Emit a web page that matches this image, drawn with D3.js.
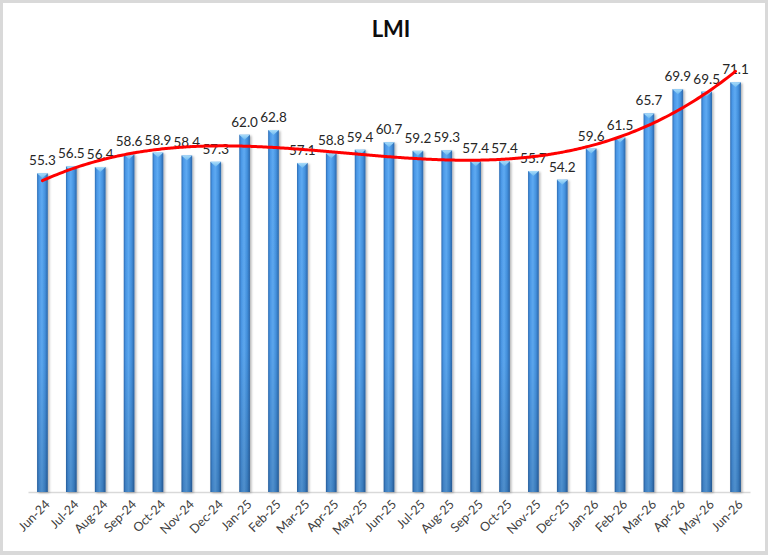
<!DOCTYPE html>
<html><head><meta charset="utf-8">
<script src="https://cdn.jsdelivr.net/npm/d3@7"></script>
<style>html,body{margin:0;padding:0;background:#fff}svg{display:block}</style>
</head><body>
<svg id="chart" width="768" height="555"></svg>
<script>
const categories = ["Jun-24","Jul-24","Aug-24","Sep-24","Oct-24","Nov-24","Dec-24","Jan-25","Feb-25","Mar-25","Apr-25","May-25","Jun-25","Jul-25","Aug-25","Sep-25","Oct-25","Nov-25","Dec-25","Jan-26","Feb-26","Mar-26","Apr-26","May-26","Jun-26"];
const values = [55.3,56.5,56.4,58.6,58.9,58.4,57.3,62.0,62.8,57.1,58.8,59.4,60.7,59.2,59.3,57.4,57.4,55.7,54.2,59.6,61.5,65.7,69.9,69.5,71.1];
const title = "LMI";
const yDomain = [0, 80];
const trendOrder = 3;

const svg = d3.select("#chart");
const W = 768, H = 555;
svg.append("rect").attr("width", W).attr("height", H).attr("fill", "#d9d9d9");
svg.append("rect").attr("x", 3).attr("y", 3).attr("width", 762).attr("height", 548).attr("fill", "#ffffff");

const margin = {left: 28, right: 18, top: 31, bottom: 63};
const x = d3.scaleBand().domain(categories).range([margin.left, W - margin.right]).paddingInner(0.63).paddingOuter(0.315);
const y = d3.scaleLinear().domain(yDomain).range([H - margin.bottom, margin.top]);

const defs = svg.append("defs");
const g1 = defs.append("linearGradient").attr("id", "barGrad").attr("x1", "0").attr("x2", "1").attr("y1", "0").attr("y2", "0");
[["0%","#2b6cb4"],["18%","#4a97e6"],["45%","#5eaaf2"],["75%","#4390dd"],["100%","#2a66aa"]].forEach(s => g1.append("stop").attr("offset", s[0]).attr("stop-color", s[1]));
const g2 = defs.append("linearGradient").attr("id", "vShade").attr("x1", "0").attr("x2", "0").attr("y1", "0").attr("y2", "1");
[["0%","#000",0],["60%","#000",0.02],["100%","#000",0.16]].forEach(s => g2.append("stop").attr("offset", s[0]).attr("stop-color", s[1]).attr("stop-opacity", s[2]));
const capGrad = defs.append("linearGradient").attr("id", "capGrad").attr("x1", "0").attr("x2", "0").attr("y1", "0").attr("y2", "1");
[["0%","#a9dcfa"],["100%","#6cb8ee"]].forEach(s => capGrad.append("stop").attr("offset", s[0]).attr("stop-color", s[1]));
const flt = defs.append("filter").attr("id", "shadow").attr("x", "-50%").attr("y", "-10%").attr("width", "200%").attr("height", "120%");
flt.append("feDropShadow").attr("dx", 1.5).attr("dy", 1).attr("stdDeviation", 1.2).attr("flood-color", "#000").attr("flood-opacity", 0.3);

// title
svg.append("text").attr("x", 391).attr("y", 37).attr("text-anchor", "middle")
  .attr("font-family", "Lato, 'Open Sans', sans-serif").attr("font-weight", "bold").attr("font-size", 22).attr("fill", "#0d0d0d").text(title);

// axis line
const xAxis = d3.axisBottom(x).tickSize(0).tickSizeOuter(0);
const ax = svg.append("g").attr("transform", `translate(0,${y(0)})`).call(xAxis);
ax.select(".domain").attr("stroke", "#d9d9d9").attr("stroke-width", 1.3);
ax.selectAll(".tick text")
  .attr("font-family", "Lato, 'Open Sans', sans-serif").attr("font-size", 12.5).attr("fill", "#404040")
  .attr("text-anchor", "end").attr("dx", 0).attr("dy", 0)
  .attr("transform", "translate(6,11) rotate(-45)");

// bars
const bars = svg.append("g").selectAll("g.bar").data(values).join("g").attr("class", "bar");
bars.append("rect")
  .attr("x", (d, i) => x(categories[i])).attr("y", d => y(d))
  .attr("width", x.bandwidth()).attr("height", d => y(0) - y(d))
  .attr("fill", "url(#barGrad)").attr("filter", "url(#shadow)");
bars.append("rect")
  .attr("x", (d, i) => x(categories[i])).attr("y", d => y(d))
  .attr("width", x.bandwidth()).attr("height", d => y(0) - y(d))
  .attr("fill", "url(#vShade)");
bars.append("path")
  .attr("d", (d, i) => {
    const x0 = x(categories[i]), w = x.bandwidth(), t = y(d);
    return `M${x0},${t} L${x0 + w},${t} L${x0 + w / 2},${t + 5} Z`;
  })
  .attr("fill", "url(#capGrad)");

// labels
svg.append("g").selectAll("text").data(values).join("text")
  .attr("x", (d, i) => x(categories[i]) + x.bandwidth() / 2)
  .attr("y", d => y(d) - 8)
  .attr("text-anchor", "middle")
  .attr("font-family", "Lato, 'Open Sans', sans-serif").attr("font-size", 13.5).attr("fill", "#262626")
  .text(d => d.toFixed(1));

// polynomial trendline (least squares)
function polyfit(xs, ys, order) {
  const n = order + 1;
  const A = Array.from({length: n}, () => new Array(n + 1).fill(0));
  for (let k = 0; k < xs.length; k++) {
    for (let r = 0; r < n; r++) {
      for (let c = 0; c < n; c++) A[r][c] += Math.pow(xs[k], r + c);
      A[r][n] += ys[k] * Math.pow(xs[k], r);
    }
  }
  for (let i = 0; i < n; i++) {
    let mx = i;
    for (let r = i + 1; r < n; r++) if (Math.abs(A[r][i]) > Math.abs(A[mx][i])) mx = r;
    [A[i], A[mx]] = [A[mx], A[i]];
    for (let r = 0; r < n; r++) {
      if (r === i) continue;
      const f = A[r][i] / A[i][i];
      for (let c = i; c <= n; c++) A[r][c] -= f * A[i][c];
    }
  }
  return A.map((row, i) => row[n] / row[i]);
}
const N = values.length;
const xsN = values.map((d, i) => (i - (N - 1) / 2) / ((N - 1) / 2));
const coef = polyfit(xsN, values, trendOrder);
const evalPoly = t => coef.reduce((s, c, k) => s + c * Math.pow(t, k), 0);
const step = x.step();
const trendPts = d3.range(0, N - 1 + 0.001, 0.1).map(i => {
  const t = (i - (N - 1) / 2) / ((N - 1) / 2);
  return [x(categories[0]) + x.bandwidth() / 2 + i * step, y(evalPoly(t))];
});
svg.append("path").attr("d", d3.line().curve(d3.curveBasis)(trendPts))
  .attr("fill", "none").attr("stroke", "#ff0000").attr("stroke-width", 3).attr("stroke-linecap", "round");
</script>
</body></html>
